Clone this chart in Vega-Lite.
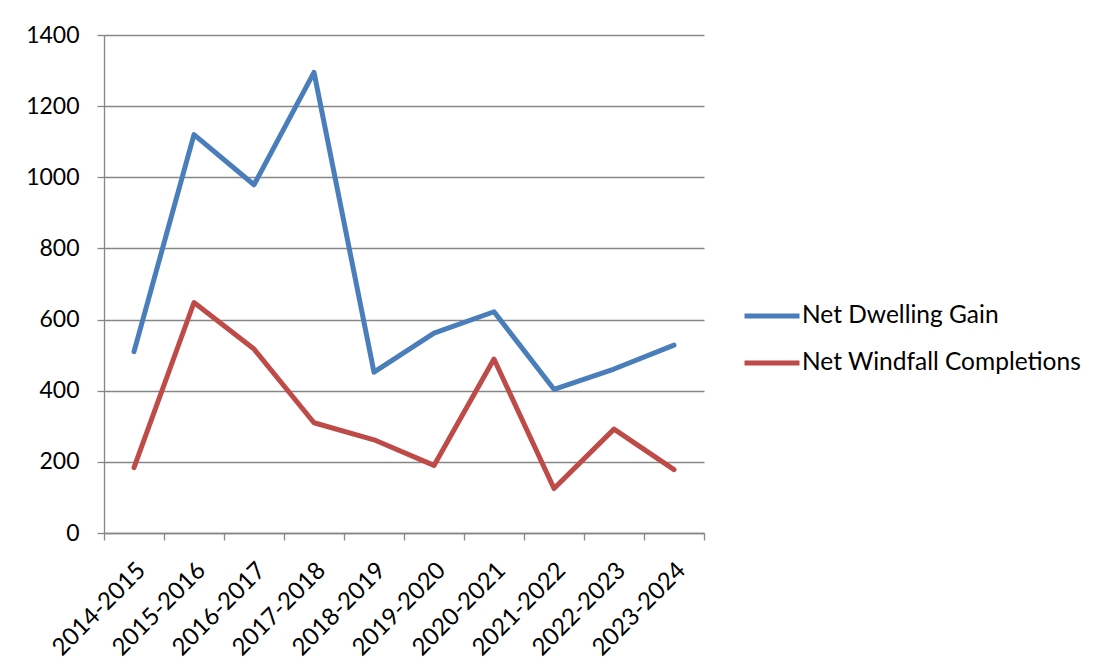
{
  "$schema": "https://vega.github.io/schema/vega-lite/v6.json",
  "width": 600,
  "height": 498,
  "autosize": {"type": "none"},
  "padding": {"left": 104, "top": 35, "right": 398, "bottom": 136},
  "background": "white",
  "data": {
    "values": [
      {"period": "2014-2015", "series": "Net Dwelling Gain", "value": 510},
      {"period": "2015-2016", "series": "Net Dwelling Gain", "value": 1120},
      {"period": "2016-2017", "series": "Net Dwelling Gain", "value": 979},
      {"period": "2017-2018", "series": "Net Dwelling Gain", "value": 1295},
      {"period": "2018-2019", "series": "Net Dwelling Gain", "value": 452},
      {"period": "2019-2020", "series": "Net Dwelling Gain", "value": 562},
      {"period": "2020-2021", "series": "Net Dwelling Gain", "value": 622},
      {"period": "2021-2022", "series": "Net Dwelling Gain", "value": 404},
      {"period": "2022-2023", "series": "Net Dwelling Gain", "value": 461},
      {"period": "2023-2024", "series": "Net Dwelling Gain", "value": 528},
      {"period": "2014-2015", "series": "Net Windfall Completions", "value": 184},
      {"period": "2015-2016", "series": "Net Windfall Completions", "value": 648},
      {"period": "2016-2017", "series": "Net Windfall Completions", "value": 517},
      {"period": "2017-2018", "series": "Net Windfall Completions", "value": 310},
      {"period": "2018-2019", "series": "Net Windfall Completions", "value": 262},
      {"period": "2019-2020", "series": "Net Windfall Completions", "value": 190},
      {"period": "2020-2021", "series": "Net Windfall Completions", "value": 489},
      {"period": "2021-2022", "series": "Net Windfall Completions", "value": 125},
      {"period": "2022-2023", "series": "Net Windfall Completions", "value": 292},
      {"period": "2023-2024", "series": "Net Windfall Completions", "value": 178}
    ]
  },
  "mark": {
    "type": "line",
    "strokeWidth": 5,
    "strokeCap": "round",
    "strokeJoin": "round"
  },
  "encoding": {
    "x": {
      "field": "period",
      "type": "ordinal",
      "scale": {"type": "band", "paddingInner": 0, "paddingOuter": 0},
      "axis": {
        "title": null,
        "tickBand": "extent",
        "labelAngle": -45,
        "labelAlign": "right",
        "labelBaseline": "top",
        "labelPadding": 18,
        "labelOffset": -1,
        "tickSize": 7,
        "tickColor": "#868686",
        "domainColor": "#868686",
        "domainWidth": 1.3,
        "tickWidth": 1.3,
        "labelFont": "Lato",
        "labelFontSize": 24,
        "labelColor": "#000000",
        "labelLimit": 300,
        "grid": false
      }
    },
    "y": {
      "field": "value",
      "type": "quantitative",
      "scale": {"domain": [0, 1400], "nice": false},
      "axis": {
        "title": null,
        "format": "d",
        "values": [0, 200, 400, 600, 800, 1000, 1200, 1400],
        "tickSize": 7,
        "tickColor": "#868686",
        "domainColor": "#868686",
        "domainWidth": 1.3,
        "tickWidth": 1.3,
        "gridColor": "#868686",
        "gridWidth": 1.3,
        "labelPadding": 18,
        "labelFont": "Lato",
        "labelFontSize": 23,
        "labelColor": "#000000"
      }
    },
    "color": {
      "field": "series",
      "type": "nominal",
      "scale": {
        "domain": ["Net Dwelling Gain", "Net Windfall Completions"],
        "range": ["#4A7EBB", "#BE4B48"]
      },
      "legend": {
        "title": null,
        "orient": "none",
        "legendX": 638,
        "legendY": 251,
        "symbolType": "stroke",
        "symbolSize": 3025,
        "symbolStrokeWidth": 5,
        "labelOffset": 0,
        "labelFont": "Lato",
        "labelFontSize": 24.5,
        "labelColor": "#000000",
        "labelLimit": 400,
        "rowPadding": 5
      }
    }
  },
  "config": {
    "view": {"stroke": null}
  }
}
